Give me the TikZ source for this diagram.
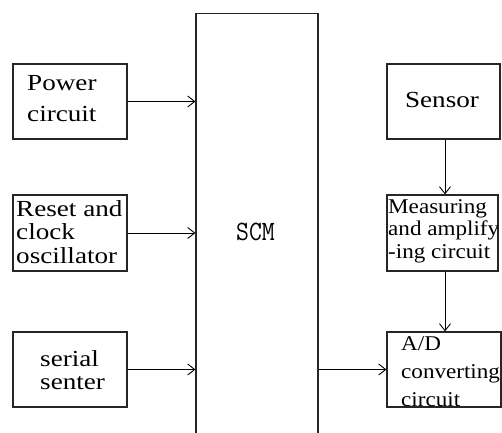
\documentclass[tikz,border=0pt]{standalone}
\usepackage{fontspec}
\usepackage{graphicx}
\setmainfont{Liberation Serif}
\newfontfamily\widefont[FakeStretch=1.18]{Liberation Serif}
\newfontfamily\midfont[FakeStretch=1.1]{Liberation Serif}
\usetikzlibrary{arrows.meta}
\tikzset{
  box/.style={draw=black!85, line width=1.2pt, minimum width=114pt, inner sep=0pt},
  lbl/.style={inner sep=0pt, align=left, anchor=base west},
  conn/.style={line width=1pt, -{Straight Barb[length=7pt,width=11pt,line width=0.9pt]}},
}
\begin{document}
\begin{tikzpicture}[x=1pt,y=1pt]
\useasboundingbox[fill=white] (0,0) rectangle (502,432);
% left boxes
\node[box, minimum height=75pt] (power) at (70,330.5) {};
\node[box, minimum height=76pt] (reset) at (70,199) {};
\node[box, minimum height=75pt] (serial) at (70,62.5) {};
% SCM
\node[box, minimum width=122pt, minimum height=440pt, anchor=north] (scm) at (257,419) {};
% right boxes
\node[box, minimum width=113pt, minimum height=75pt] (sensor) at (443.5,330.5) {};
\node[box, minimum width=111pt, minimum height=76pt] (meas) at (442.5,199) {};
\node[box, minimum width=114pt, minimum height=75pt] (ad) at (444,62.5) {};
% texts (anchor = baseline of last line)
\node[lbl, font={\widefont\fontsize{23}{31}\selectfont}] (tpower) at (27,311) {Power\\circuit};
\node[lbl, font={\widefont\fontsize{23}{23.5}\selectfont}] (treset) at (16,169) {Reset and\\clock\\oscillator};
\node[lbl, font={\widefont\fontsize{23}{23}\selectfont}] (tserial) at (40,43) {serial\\senter};
\node[anchor=base, inner sep=0pt, font={\widefont\fontsize{23}{23}\selectfont}] (tsensor) at (442,325) {Sensor};
\node[lbl, font={\midfont\fontsize{21}{22.5}\selectfont}] (tmeas) at (388,174) {Measuring\\and amplify\\-ing circuit};
\node[lbl, font={\midfont\fontsize{21}{28}\selectfont}] (tad) at (401,26) {A/D\\converting\\circuit};
\node[inner sep=0pt, font={\ttfamily\fontsize{25}{25}\selectfont}] (tscm) at (255.5,200) {\scalebox{1}[1.12]{SCM}};
% connectors
\draw[conn] (power.east) -- (power.east -| scm.west);
\draw[conn] (reset.east) -- (reset.east -| scm.west);
\draw[conn] (serial.east) -- (serial.east -| scm.west);
\draw[conn] (serial.east -| scm.east) -- (ad.west);
\draw[conn] ([xshift=1.5pt]sensor.south) -- ([xshift=1.5pt]meas.north -| sensor.south);
\draw[conn] ([xshift=2.5pt]meas.south) -- ([xshift=2.5pt]meas.south |- ad.north);
\end{tikzpicture}
\end{document}
